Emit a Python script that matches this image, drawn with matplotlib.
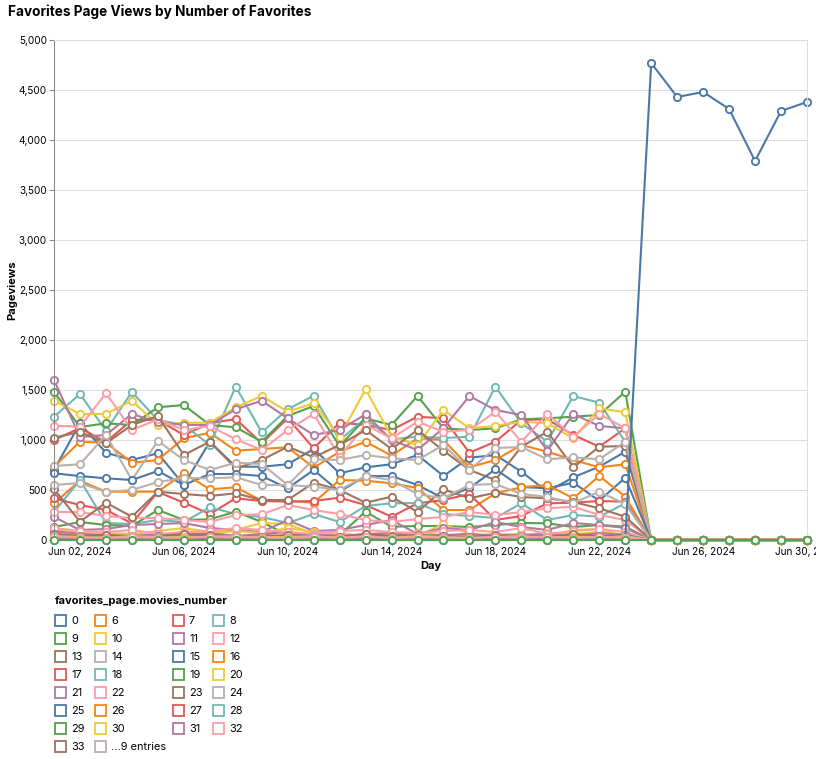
import numpy as np
import matplotlib
matplotlib.use("Agg")
import matplotlib.pyplot as plt
import matplotlib.dates as mdates
from matplotlib.patches import Rectangle
from matplotlib.ticker import FuncFormatter, MultipleLocator

plt.rcParams['font.family'] = ['Inter', 'DejaVu Sans']

days = np.arange(np.datetime64('2024-06-01'), np.datetime64('2024-07-01'))

# ---- series values (Jun 01 .. Jun 30) ----
s0  = [700,1167,873,800,867,550,983,733,733,757,910,667,727,757,850,640,823,850,683,483,627,733,883, 0,0,0,0,0,0,0]
s6  = [733,983,973,773,800,1017,1073,893,910,927,723,883,983,843,1017,1000,727,800,950,883,800,727,757, 0,0,0,0,0,0,0]
s7  = [1000,1120,980,1200,1200,1050,1167,1210,967,1217,917,1173,1150,1100,1233,1217,873,983,1200,1207,1050,933,1117, 0,0,0,0,0,0,0]
s8  = [1233,1460,1093,1480,1200,1150,950,1533,1077,1307,1443,1000,1217,1007,1033,1020,1033,1533,1167,983,1440,1373,983, 0,0,0,0,0,0,0]
s9  = [1483,1130,1167,1150,1327,1350,1150,1127,983,1240,1340,940,1217,1150,1440,1117,1100,1117,1207,1217,1233,1250,1483, 0,0,0,0,0,0,0]
s10 = [1393,1260,1260,1393,1150,1173,1173,1327,1440,1283,1367,1033,1507,1033,950,1300,1117,1140,1183,1167,1017,1317,1277, 0,0,0,0,0,0,0]
s11 = [1600,1030,1050,1260,1180,1150,1150,1307,1393,1217,1050,1100,1257,1000,900,1120,1440,1300,1250,893,1260,1140,1117, 0,0,0,0,0,0,0]
s12 = [1143,1133,1467,1100,1207,1100,1140,1007,900,1100,1260,833,1150,1017,1183,1083,1100,1283,983,1260,1033,1260,1117, 0,0,0,0,0,0,0]
s13 = [1023,1080,967,1150,1240,850,983,717,800,933,827,950,1100,910,1100,893,700,600,933,1083,727,933,940, 0,0,0,0,0,0,0]
s14 = [740,757,1050,600,990,800,700,773,760,550,807,800,850,817,800,950,700,920,930,807,827,807,983, 0,0,0,0,0,0,0]
s15 = [667,640,617,600,690,550,660,660,640,517,700,483,640,640,550,417,520,707,530,517,573,393,623, 0,0,0,0,0,0,0]
s16 = [367,593,483,483,483,667,507,527,393,393,373,600,593,567,520,300,300,467,527,550,417,640,433, 0,0,0,0,0,0,0]
s17 = [417,350,300,167,480,373,260,417,390,383,390,423,350,233,367,400,460,200,240,367,373,390,383, 0,0,0,0,0,0,0]
s18 = [280,600,170,160,200,180,327,260,230,170,260,180,340,367,370,260,240,220,367,200,250,233,367, 0,0,0,0,0,0,0]
s19 = [130,180,150,140,300,200,207,283,180,50,60,50,283,133,140,140,130,150,170,167,130,150,133, 0,0,0,0,0,0,0]
s20 = [110,80,70,60,90,120,80,100,170,160,60,40,50,60,40,160,60,50,60,30,100,110,40, 0,0,0,0,0,0,0]
s21 = [230,100,110,150,160,170,120,100,80,200,90,100,150,200,60,120,100,180,130,100,170,150,120, 0,0,0,0,0,0,0]
s22 = [280,280,240,220,220,200,180,250,257,350,300,260,200,180,210,230,280,250,280,317,333,250,200, 0,0,0,0,0,0,0]
s23 = [510,183,373,233,483,460,440,467,400,400,573,500,373,433,280,507,417,473,430,417,380,317,233, 0,0,0,0,0,0,0]
s24 = [550,570,480,500,580,620,617,627,550,550,533,500,640,600,460,417,550,560,460,430,370,483,360, 0,0,0,0,0,0,0]
s25 = [40,20,30,15,25,10,20,30,15,10,20,25,15,10,20,30,10,15,20,25,10,20,30, 0,0,0,0,0,0,0]
s26 = [60,40,30,50,40,30,60,40,20,30,40,50,30,20,40,30,20,30,10,0,30,20,40, 0,0,0,0,0,0,0]
s27 = [80,60,40,30,60,50,40,30,50,40,30,60,40,50,30,40,60,30,40,50,30,40,20, 0,0,0,0,0,0,0]
s28 = [50,30,40,60,30,40,20,30,40,30,50,40,30,20,40,30,50,40,30,20,30,40,50, 0,0,0,0,0,0,0]
s29 = [30,20,40,30,20,30,40,20,30,40,20,30,20,40,30,20,30,20,40,30,20,30,60, 0,0,0,0,0,0,0]
s30 = [70,50,40,60,50,80,60,90,70,120,80,60,40,60,70,50,40,60,50,70,60,80,40, 0,0,0,0,0,0,0]
s31 = [90,60,50,40,60,50,70,40,60,80,50,40,60,70,40,50,60,40,50,60,40,70,50, 0,0,0,0,0,0,0]
s32 = [120,90,80,100,60,80,90,120,100,80,60,90,100,80,70,90,100,80,120,60,90,110,80, 0,0,0,0,0,0,0]
s33 = [60,40,50,30,40,60,50,40,30,50,40,30,60,40,50,40,30,50,40,30,60,40,50, 0,0,0,0,0,0,0]
s34 = [40,30,20,40,30,20,30,40,20,30,40,20,30,20,40,30,20,30,40,20,30,20,40, 0,0,0,0,0,0,0]
s35 = [0,0,0,0,0,0,0,0,0,0,0,0,0,0,0,0,0,0,0,0,0,0,0, 4770,4430,4480,4310,3790,4290,4380]
s36 = [20,10,15,10,20,10,15,20,10,15,10,20,15,10,20,10,15,10,20,15,10,20,10, 0,0,0,0,0,0,0]
s37 = [15,10,20,10,15,20,10,15,20,10,15,10,20,15,10,20,15,10,15,20,10,15,10, 0,0,0,0,0,0,0]
s38 = [10,15,10,20,10,15,10,20,15,10,20,10,15,10,20,15,10,20,10,15,20,10,15, 0,0,0,0,0,0,0]
s39 = [0,0,0,0,0,0,0,0,0,0,0,0,0,0,0,0,0,0,0,0,0,0,0, 0,0,0,0,0,0,0]
s40 = [30,20,15,25,20,30,20,15,25,30,20,25,15,20,30,25,20,15,25,20,30,20,25, 0,0,0,0,0,0,0]
s41 = [25,15,20,10,25,15,20,25,10,20,15,25,20,10,15,25,20,15,10,25,20,15,20, 0,0,0,0,0,0,0]
s42 = [35,25,20,30,25,20,35,30,25,20,30,25,35,20,30,25,20,30,25,35,20,30,25, 0,0,0,0,0,0,0]

series_names = ['0','6','7','8','9','10','11','12','13','14','15','16','17','18','19','20',
                '21','22','23','24','25','26','27','28','29','30','31','32','33',
                '34','35','36','37','38','39','40','41','42']
series_values = [s0,s6,s7,s8,s9,s10,s11,s12,s13,s14,s15,s16,s17,s18,s19,s20,
                 s21,s22,s23,s24,s25,s26,s27,s28,s29,s30,s31,s32,s33,
                 s34,s35,s36,s37,s38,s39,s40,s41,s42]
legend_labels = series_names[:29] + ['...9 entries']

palette = ["#4c78a8","#f58518","#e45756","#72b7b2","#54a24b",
           "#eeca3b","#b279a2","#ff9da6","#9d755d","#bab0ac"]

W, H = 816, 759
fig = plt.figure(figsize=(W/100, H/100), dpi=100)
L, R, T, B = 54, 807, 40, 540
ax = fig.add_axes([L/W, 1-B/H, (R-L)/W, (B-T)/H])

for i, (name, vals) in enumerate(zip(series_names, series_values)):
    c = palette[i % 10]
    z = 10 if name == '39' else 2 + i*0.01
    ax.plot(days, vals, color=c, lw=1.5, marker='o', ms=5.2, mfc='white',
            mec=c, mew=1.35, zorder=z, clip_on=False)

ax.set_xlim(days[0], days[-1])
ax.set_ylim(0, 5000)
ax.yaxis.set_major_locator(MultipleLocator(500))
ax.yaxis.set_major_formatter(FuncFormatter(lambda v, p: f"{int(v):,}"))
ax.xaxis.set_major_locator(mdates.DayLocator(bymonthday=[2,6,10,14,18,22,26,30]))
ax.xaxis.set_major_formatter(mdates.DateFormatter('%b %d, %Y'))
ax.grid(axis='y', color='#dddddd', lw=0.75, zorder=0)
ax.set_axisbelow(True)
for s in ['top', 'right']:
    ax.spines[s].set_color('#dddddd')
    ax.spines[s].set_linewidth(0.75)
for s in ['left', 'bottom']:
    ax.spines[s].set_color('#888888')
    ax.spines[s].set_linewidth(0.75)
ax.tick_params(axis='both', length=3.6, width=0.75, color='#888888',
               labelsize=7.2, labelcolor='black', pad=1.5)

ax.set_xlabel('Day', fontsize=8, fontweight='bold', labelpad=3)
ax.set_ylabel('Pageviews', fontsize=8, fontweight='bold')
ax.yaxis.set_label_coords((17 - L) / (R - L), 0.5)

fig.text(8/W, 1-12/H, 'Favorites Page Views by Number of Favorites',
         fontsize=9.8, fontweight='bold', va='center', ha='left')

# legend (manual layout)
fig.text(55/W, 1-601/H, 'favorites_page.movies_number', fontsize=8,
         fontweight='bold', va='center', ha='left')
col_x = [55, 95, 173, 213]
for k, lab in enumerate(legend_labels):
    r, cidx = divmod(k, 4)
    x0 = col_x[cidx]
    yc = 620.7 + 18 * r
    c = '#bab0ac' if lab.startswith('...') else palette[k % 10]
    fig.patches.append(Rectangle((x0/W, 1-(yc+5.5)/H), 11/W, 11/H,
                                 transform=fig.transFigure, fill=False,
                                 edgecolor=c, lw=1.3))
    fig.text((x0+16)/W, 1-yc/H, lab, fontsize=7.9, va='center', ha='left')

fig.savefig('out.png', dpi=100)
